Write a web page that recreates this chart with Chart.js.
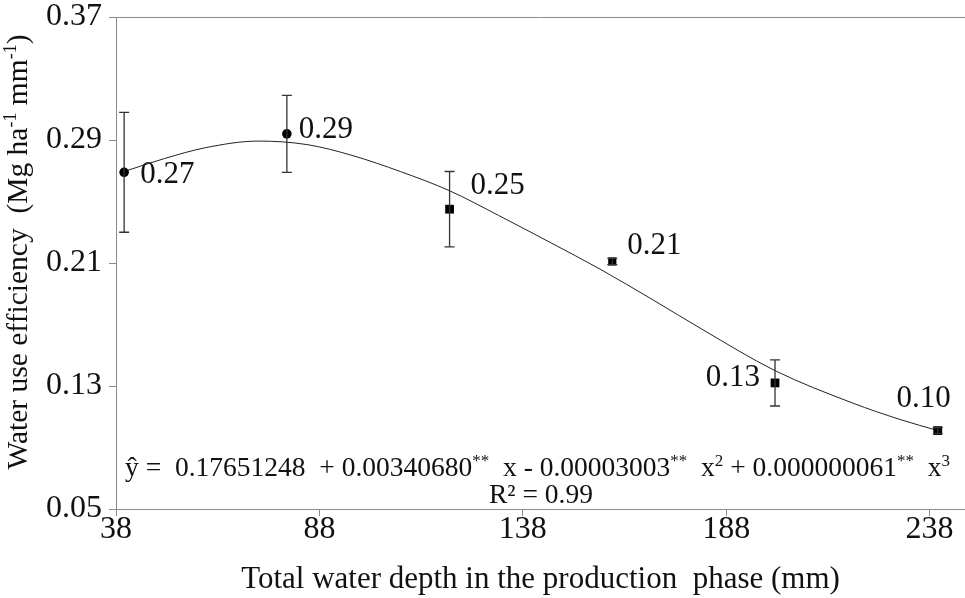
<!DOCTYPE html>
<html>
<head>
<meta charset="utf-8">
<script src="https://cdn.jsdelivr.net/npm/chart.js@4/dist/chart.umd.min.js"></script>
<style>
  html, body { margin: 0; padding: 0; background: #fff; }
  #wrap { width: 965px; height: 598px; position: relative; }
</style>
</head>
<body>
<div id="wrap"><canvas id="c" width="965" height="598"></canvas></div>
<script>
// ---- data ----
const xValues = [40, 80, 120, 160, 200, 240];
const wueValues = [0.269, 0.294, 0.245, 0.211, 0.132, 0.101];
const errValues = [0.039, 0.025, 0.0245, 0.002, 0.015, 0.002];
const pointLabels = ['0.27', '0.29', '0.25', '0.21', '0.13', '0.10'];
const trendX = [40, 50, 60, 73, 85, 96, 108, 120, 132, 145, 157, 170, 182, 200, 219, 231, 240];
const trendY = [0.2695, 0.278, 0.285, 0.2893, 0.287, 0.280, 0.2694, 0.257, 0.241, 0.223, 0.206, 0.186, 0.167, 0.140, 0.119, 0.108, 0.101];
const xTicks = [38, 88, 138, 188, 238];
const yTicks = [0.05, 0.13, 0.21, 0.29, 0.37];
const xTitle = 'Total water depth in the production  phase (mm)';
const eqR2 = 'R² = 0.99';

// ---- styling ----
const FONT = "'Liberation Serif', 'Times New Roman', serif";
const AXIS_COLOR = '#8a8a8a';
const labelOffsets = [
  { dx: 16, dy: 3, align: 'left' },
  { dx: 12, dy: -4, align: 'left' },
  { dx: 21, dy: -23, align: 'left' },
  { dx: 15, dy: -16, align: 'left' },
  { dx: -15, dy: -5, align: 'right' },
  { dx: -14, dy: -32, align: 'center' }
];

Chart.defaults.font.family = FONT;
Chart.defaults.color = '#111';

const pointData = xValues.map((x, i) => ({ x: x, y: wueValues[i] }));
const trendData = trendX.map((x, i) => ({ x: x, y: trendY[i] }));

const errorBarPlugin = {
  id: 'errorBars',
  afterDatasetsDraw(chart) {
    const ctx = chart.ctx;
    const xs = chart.scales.x, ys = chart.scales.y;
    ctx.save();
    ctx.strokeStyle = '#333';
    ctx.lineWidth = 1.3;
    xValues.forEach((x, i) => {
      const px = xs.getPixelForValue(x);
      const top = ys.getPixelForValue(wueValues[i] + errValues[i]);
      const bot = ys.getPixelForValue(wueValues[i] - errValues[i]);
      const cap = 5;
      ctx.beginPath();
      ctx.moveTo(px, top); ctx.lineTo(px, bot);
      ctx.moveTo(px - cap, top); ctx.lineTo(px + cap, top);
      ctx.moveTo(px - cap, bot); ctx.lineTo(px + cap, bot);
      ctx.stroke();
    });
    ctx.restore();
  }
};

const textPlugin = {
  id: 'texts',
  afterDraw(chart) {
    const ctx = chart.ctx;
    const xs = chart.scales.x, ys = chart.scales.y;
    const area = chart.chartArea;
    ctx.save();
    // top border
    ctx.strokeStyle = AXIS_COLOR;
    ctx.lineWidth = 1;
    ctx.beginPath();
    ctx.moveTo(area.left, area.top + 0.5);
    ctx.lineTo(area.right, area.top + 0.5);
    ctx.stroke();

    // point labels
    ctx.fillStyle = '#111';
    ctx.font = '31px ' + FONT;
    ctx.textBaseline = 'middle';
    xValues.forEach((x, i) => {
      const o = labelOffsets[i];
      ctx.textAlign = o.align;
      ctx.fillText(pointLabels[i], xs.getPixelForValue(x) + o.dx, ys.getPixelForValue(wueValues[i]) + o.dy);
    });

    // equation line (segments: [text, superscript?])
    const segs = [
      ['ŷ =  0.17651248  + 0.00340680', false], ['**', true], ['  x - 0.00003003', false], ['**', true],
      ['  x', false], ['2', true], [' + 0.000000061', false], ['**', true], ['  x', false], ['3', true]
    ];
    const big = '27.5px ' + FONT, small = '17px ' + FONT;
    let cx = area.left + 9;
    const baseY = area.bottom - 33;
    ctx.textAlign = 'left';
    ctx.textBaseline = 'alphabetic';
    segs.forEach(s => {
      ctx.font = s[1] ? small : big;
      ctx.fillText(s[0], cx, s[1] ? baseY - 10 : baseY);
      cx += ctx.measureText(s[0]).width;
    });
    ctx.font = big;
    ctx.textAlign = 'center';
    ctx.fillText(eqR2, 541, baseY + 27);

    // y-axis title (rotated, with superscripts)
    const ysegs = [
      ['Water use efficiency  (Mg ha', false], ['-1', true], [' mm', false], ['-1', true], [')', false]
    ];
    const ybig = '29.5px ' + FONT, ysmall = '18px ' + FONT;
    let ytotal = 0;
    ysegs.forEach(s => { ctx.font = s[1] ? ysmall : ybig; ytotal += ctx.measureText(s[0]).width; });
    ctx.translate(27, 252);
    ctx.rotate(-Math.PI / 2);
    let tx = -ytotal / 2;
    ctx.textAlign = 'left';
    ysegs.forEach(s => {
      ctx.font = s[1] ? ysmall : ybig;
      ctx.fillText(s[0], tx, s[1] ? -11 : 0);
      tx += ctx.measureText(s[0]).width;
    });
    ctx.restore();
  }
};

new Chart(document.getElementById('c'), {
  type: 'scatter',
  data: {
    datasets: [
      {
        label: 'trend',
        data: trendData,
        showLine: true,
        pointRadius: 0,
        borderColor: '#222',
        borderWidth: 1,
        cubicInterpolationMode: 'monotone',
        order: 2
      },
      {
        label: 'WUE',
        data: pointData,
        showLine: false,
        pointStyle: ['circle', 'circle', 'rect', 'rect', 'rect', 'rect'],
        pointRadius: [4.8, 4.8, 6.2, 5.8, 6.2, 6.2],
        backgroundColor: '#000',
        borderColor: '#000',
        borderWidth: 0,
        order: 1
      }
    ]
  },
  options: {
    responsive: false,
    animation: false,
    events: [],
    layout: { autoPadding: false, padding: { left: 0, right: 0, top: 17, bottom: 0 } },
    plugins: { legend: { display: false }, tooltip: { enabled: false } },
    scales: {
      x: {
        type: 'linear',
        min: 38,
        max: 246.7,
        afterBuildTicks(scale) { scale.ticks = xTicks.map(v => ({ value: v })); },
        afterFit(scale) {
          scale.height = 89;
          scale.paddingLeft = 0; scale.paddingRight = 0;
        },
        ticks: {
          callback: v => String(v),
          font: { size: 32, family: FONT },
          color: '#111',
          padding: -6,
          maxRotation: 0,
          autoSkip: false
        },
        grid: { display: true, drawOnChartArea: false, drawTicks: true, tickLength: 7, color: AXIS_COLOR },
        border: { display: true, color: AXIS_COLOR, width: 1 },
        title: { display: true, text: xTitle, font: { size: 31, family: FONT }, color: '#111', padding: { top: 0, bottom: 0 } }
      },
      y: {
        type: 'linear',
        min: 0.05,
        max: 0.37,
        afterBuildTicks(scale) { scale.ticks = yTicks.map(v => ({ value: v })); },
        afterFit(scale) {
          scale.width = 116;
          scale.paddingTop = 0; scale.paddingBottom = 0;
        },
        ticks: {
          callback: v => Number(v).toFixed(2),
          font: { size: 32, family: FONT },
          color: '#111',
          padding: 7,
          autoSkip: false
        },
        grid: { display: true, drawOnChartArea: false, drawTicks: true, tickLength: 7, color: AXIS_COLOR },
        border: { display: true, color: AXIS_COLOR, width: 1 }
      }
    }
  },
  plugins: [errorBarPlugin, textPlugin]
});
</script>
</body>
</html>
